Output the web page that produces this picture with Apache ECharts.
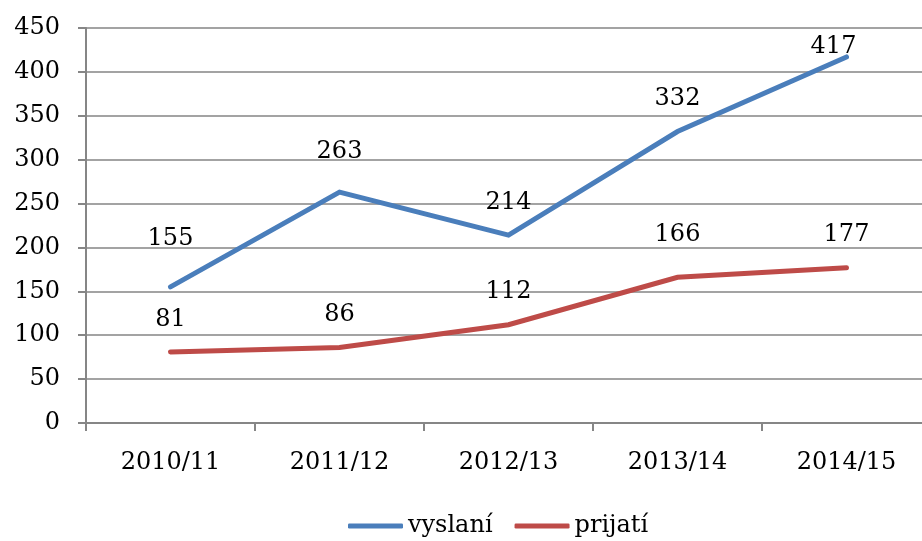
<!DOCTYPE html>
<html>
<head>
<meta charset="utf-8">
<script src="https://cdn.jsdelivr.net/npm/echarts@6/dist/echarts.min.js"></script>
<style>
  html, body { margin: 0; padding: 0; background: #fff; }
  #chart { width: 922px; height: 541px; }
</style>
</head>
<body>
<div id="chart"></div>
<script>
var years = ['2010/11', '2011/12', '2012/13', '2013/14', '2014/15'];
var vyslani = [155, 263, 214, 332, 417];
var prijati = [81, 86, 112, 166, 177];

// label nudges [dx, lift] where the original label sits off the default spot
var nudgeVyslani = [[0, 16], [0, 8], [0, 0], [0, 0], [-13, -22]];
var nudgePrijati = [[0, 0], [0, 0], [0, 0], [0, 10], [0, 0]];

var font = 'DejaVu Serif';

function withLabels(values, nudge) {
  return values.map(function (v, i) {
    return { value: v, label: { offset: [nudge[i][0], -nudge[i][1]] } };
  });
}

var chart = echarts.init(document.getElementById('chart'));
var option = {
  animation: false,
  grid: { left: 86, width: 845, top: 28, bottom: 118, containLabel: false, outerBoundsMode: 'none' },
  legend: {
    bottom: -2,
    left: 343,
    icon: 'roundRect',
    itemWidth: 55,
    itemHeight: 5,
    itemGap: 22,
    textStyle: { fontFamily: font, fontSize: 24, color: '#000' },
    data: ['vyslaní', 'prijatí']
  },
  xAxis: {
    type: 'category',
    data: years,
    boundaryGap: true,
    axisLine: { lineStyle: { color: '#868686', width: 2 } },
    axisTick: { show: true, length: 8, alignWithLabel: false, lineStyle: { color: '#868686', width: 2 } },
    axisLabel: { fontFamily: font, fontSize: 24, color: '#000', margin: 28 }
  },
  yAxis: {
    type: 'value',
    min: 0,
    max: 450,
    interval: 50,
    axisLine: { show: true, lineStyle: { color: '#868686', width: 2 } },
    axisTick: { show: true, length: 8, lineStyle: { color: '#868686', width: 2 } },
    splitLine: { lineStyle: { color: '#a3a3a3', width: 2 } },
    axisLabel: { fontFamily: font, fontSize: 24, color: '#000', margin: 26 }
  },
  series: [
    {
      name: 'vyslaní',
      type: 'line',
      data: withLabels(vyslani, nudgeVyslani),
      symbol: 'circle',
      symbolSize: 1,
      lineStyle: { color: '#4A7EBB', width: 5, cap: 'round', join: 'miter' },
      itemStyle: { color: '#4A7EBB' },
      label: { show: true, position: 'top', distance: 20, fontFamily: font, fontSize: 24, color: '#000' }
    },
    {
      name: 'prijatí',
      type: 'line',
      data: withLabels(prijati, nudgePrijati),
      symbol: 'circle',
      symbolSize: 1,
      lineStyle: { color: '#BE4B48', width: 5, cap: 'round', join: 'miter' },
      itemStyle: { color: '#BE4B48' },
      label: { show: true, position: 'top', distance: 20, fontFamily: font, fontSize: 24, color: '#000' }
    }
  ]
};
chart.setOption(option);
</script>
</body>
</html>
